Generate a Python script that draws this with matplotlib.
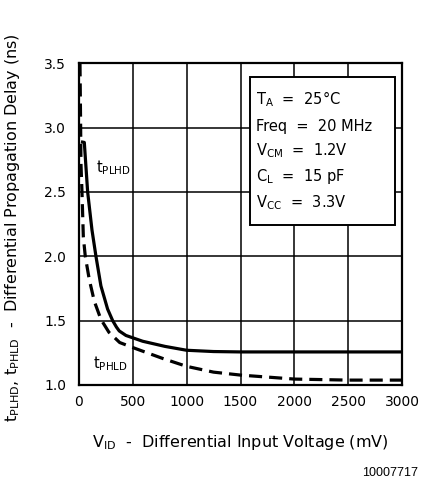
import matplotlib
matplotlib.use("Agg")
import matplotlib.pyplot as plt
from matplotlib.patches import Rectangle

plt.rcParams['font.family'] = ['DejaVu Sans']
plt.rcParams['mathtext.default'] = 'regular'

# Data
plhd_mv = [21, 52, 83, 123, 160, 206, 268, 315, 350, 376, 438, 593, 800, 1000, 1250, 1500, 2000, 2500, 3000]
plhd_ns = [2.89, 2.885, 2.50, 2.205, 2.00, 1.77, 1.59, 1.50, 1.45, 1.42, 1.385, 1.34, 1.30, 1.27, 1.26, 1.257, 1.257, 1.257, 1.257]

phld_mv = [12, 18, 21, 30, 43, 61, 98, 145, 206, 280, 380, 537, 783, 1000, 1250, 1500, 2000, 2500, 3000]
phld_ns = [3.5, 3.0, 2.72, 2.51, 2.15, 2.00, 1.82, 1.65, 1.51, 1.41, 1.33, 1.28, 1.205, 1.145, 1.10, 1.077, 1.046, 1.038, 1.038]

x_ticks = [0, 500, 1000, 1500, 2000, 2500, 3000]
y_ticks = [1.0, 1.5, 2.0, 2.5, 3.0, 3.5]
y_tick_labels = ["1.0", "1.5", "2.0", "2.5", "3.0", "3.5"]

conditions = [r"T$_A$  =  25°C",
              r"Freq  =  20 MHz",
              r"V$_{CM}$  =  1.2V",
              r"C$_L$  =  15 pF",
              r"V$_{CC}$  =  3.3V"]

W, H = 422, 483
fig = plt.figure(figsize=(W / 100, H / 100), dpi=100)
ax = fig.add_axes([78.7 / W, 1 - 385 / H, (402.3 - 78.7) / W, (385 - 63.3) / H])

ax.plot(plhd_mv, plhd_ns, color='black', lw=2.3, solid_capstyle='butt',
        solid_joinstyle='round', zorder=3)
ax.plot(phld_mv, phld_ns, color='black', lw=2.3, dashes=(4.1, 2.2), zorder=3)

ax.set_xlim(0, 3000)
ax.set_ylim(1.0, 3.5)
ax.set_xticks(x_ticks)
ax.set_yticks(y_ticks)
ax.set_yticklabels(y_tick_labels)
ax.tick_params(length=0, labelsize=10, pad=7)
ax.tick_params(axis='y', pad=9)
ax.grid(True, color='black', lw=1.1)
for s in ax.spines.values():
    s.set_linewidth(1.6)

# condition box
ax.add_patch(Rectangle((0.529, 0.497), 0.448, 0.46, transform=ax.transAxes,
                       facecolor='white', edgecolor='black', lw=1.4, zorder=4))
ys = [99, 126, 151, 177, 203]
for t, yp in zip(conditions, ys):
    fig.text(256 / W, 1 - yp / H, t, fontsize=10.5, ha='left', va='center', zorder=5)

fig.text(96 / W, 1 - 168 / H, r"t$_{PLHD}$", fontsize=10.5, ha='left', va='center')
fig.text(93 / W, 1 - 364 / H, r"t$_{PHLD}$", fontsize=10.5, ha='left', va='center')

fig.text(240 / W, 1 - 443 / H, r"V$_{ID}$  -  Differential Input Voltage (mV)",
         fontsize=11.5, ha='center', va='center')
fig.text(13 / W, 1 - 228 / H,
         r"t$_{PLHD}$, t$_{PHLD}$  -  Differential Propagation Delay (ns)",
         fontsize=11.5, ha='center', va='center', rotation=90)
fig.text(418 / W, 1 - 473 / H, "10007717", fontsize=9, ha='right', va='center',
         family='Liberation Sans')

fig.savefig("out.png", dpi=100, facecolor='white')
